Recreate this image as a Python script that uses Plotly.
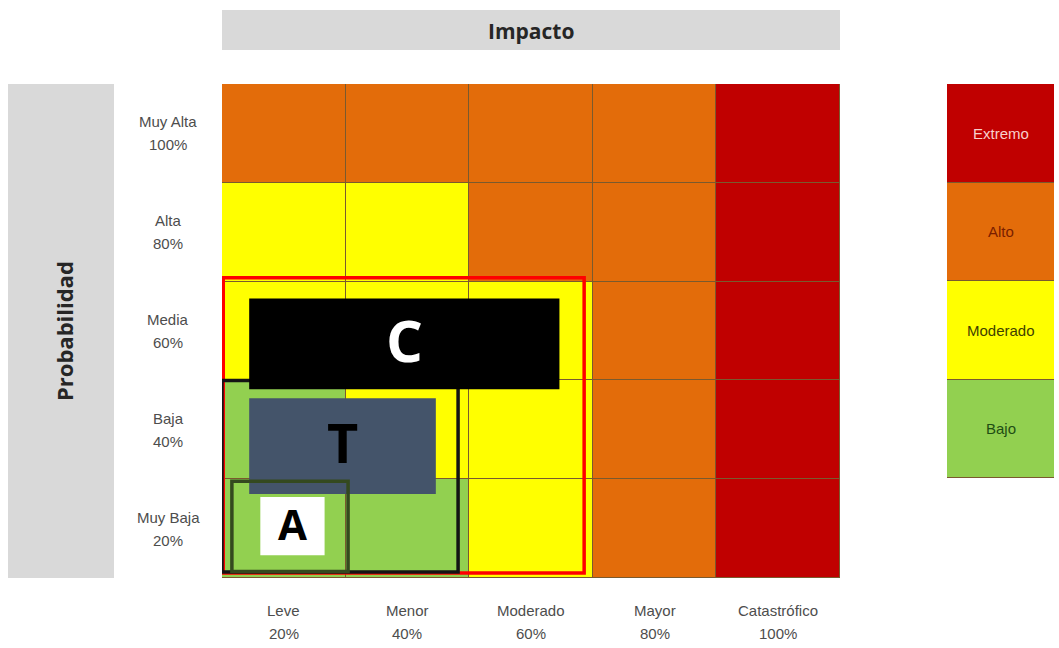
import plotly.graph_objects as go

# ---- data -------------------------------------------------------------
impact_names = ["Leve", "Menor", "Moderado", "Mayor", "Catastrófico"]
impact_pcts = ["20%", "40%", "60%", "80%", "100%"]
prob_names = ["Muy Baja", "Baja", "Media", "Alta", "Muy Alta"]   # bottom -> top
prob_pcts = ["20%", "40%", "60%", "80%", "100%"]

level_names = ["Bajo", "Moderado", "Alto", "Extremo"]
level_colors = ["#92D050", "#FFFF00", "#E36C0A", "#C00000"]
level_text_colors = ["#1F4E14", "#3F3F00", "#7A1E00", "#F8D0CC"]

# risk level per cell: rows = probability (Muy Baja..Muy Alta), cols = impact
risk_matrix = [
    [0, 0, 1, 2, 3],
    [0, 1, 1, 2, 3],
    [1, 1, 1, 2, 3],
    [1, 1, 2, 2, 3],
    [2, 2, 2, 2, 3],
]

# control zones, extents in (impact, probability) cell units
zone_names = ["C", "T", "A"]
zone_impact = [(0.01, 2.93), (0.0, 1.91), (0.08, 1.02)]
zone_prob = [(0.05, 3.04), (0.06, 2.00), (0.065, 0.98)]
zone_colors = ["#FF0000", "#141414", "#34491F"]

# label plates for each control
plate_impact = [(0.22, 2.73), (0.22, 1.73), (0.31, 0.83)]
plate_prob = [(1.91, 2.83), (0.85, 1.82), (0.23, 0.82)]
plate_fill = ["#000000", "#44546A", "#FFFFFF"]
plate_text = ["#FFFFFF", "#000000", "#000000"]
plate_size = [58, 54, 42]

# ---- figure -----------------------------------------------------------
W, H = 1059, 648
px_x = lambda p: p / W
px_y = lambda p: 1 - p / H

n = len(impact_names)
centers = [i + 0.5 for i in range(n)]

scale = []
for i, c in enumerate(level_colors):
    scale += [[i / len(level_colors), c], [(i + 1) / len(level_colors), c]]

fig = go.Figure()
fig.add_trace(go.Heatmap(
    z=risk_matrix, x=centers, y=centers,
    zmin=0, zmax=len(level_names) - 1, colorscale=scale,
    showscale=False, xgap=1, ygap=1, hoverinfo="skip",
))

# key column on its own axes
fig.add_trace(go.Heatmap(
    z=[[i] for i in range(len(level_names))], x=[0], y=list(range(len(level_names))),
    zmin=0, zmax=len(level_names) - 1, colorscale=scale,
    showscale=False, ygap=1, hoverinfo="skip", xaxis="x2", yaxis="y2",
))

axis_common = dict(showgrid=False, zeroline=False, showticklabels=False,
                   ticks="", showline=False, fixedrange=True)
fig.update_layout(
    width=W, height=H,
    margin=dict(l=0, r=0, t=0, b=0),
    paper_bgcolor="white",
    plot_bgcolor="#7A5A2E",
    showlegend=False,
    xaxis=dict(domain=[px_x(222), px_x(840)], range=[0, n], **axis_common),
    yaxis=dict(domain=[px_y(578), px_y(84)], range=[0, n], **axis_common),
    xaxis2=dict(domain=[px_x(947), px_x(1054)], range=[-0.5, 0.5], anchor="y2", **axis_common),
    yaxis2=dict(domain=[px_y(478), px_y(84)], range=[-0.5, len(level_names) - 0.5],
                anchor="x2", **axis_common),
)

shapes = []
# header bands
shapes.append(dict(type="rect", xref="x domain", yref="paper",
                   x0=0, x1=1, y0=px_y(50), y1=px_y(10),
                   fillcolor="#D9D9D9", line=dict(width=0), layer="below"))
shapes.append(dict(type="rect", xref="paper", yref="y domain",
                   x0=px_x(8), x1=px_x(114), y0=0, y1=1,
                   fillcolor="#D9D9D9", line=dict(width=0), layer="below"))

def outline(k):
    (x0, x1), (y0, y1) = zone_impact[k], zone_prob[k]
    return dict(type="rect", xref="x", yref="y", x0=x0, x1=x1, y0=y0, y1=y1,
                line=dict(color=zone_colors[k], width=3.5), fillcolor="rgba(0,0,0,0)")

def plate(k):
    (x0, x1), (y0, y1) = plate_impact[k], plate_prob[k]
    return dict(type="rect", xref="x", yref="y", x0=x0, x1=x1, y0=y0, y1=y1,
                line=dict(width=0), fillcolor=plate_fill[k])

# drawing order: outer red, black, C plate, T plate, green, A plate
shapes += [outline(0), outline(1), plate(0), plate(1), outline(2), plate(2)]
fig.update_layout(shapes=shapes)

ann = []
tick_font = dict(family="Liberation Sans, Arial, sans-serif", size=15, color="#4D4D4D")
mid = dict(xanchor="center", yanchor="middle", showarrow=False)
for i in range(n):
    ann.append(dict(x=centers[i], xref="x", y=0, yref="y domain", yshift=-32,
                    text=impact_names[i], font=tick_font, **mid))
    ann.append(dict(x=centers[i], xref="x", y=0, yref="y domain", yshift=-55,
                    text=impact_pcts[i], font=tick_font, **mid))
    ann.append(dict(x=0, xref="x domain", xshift=-54, y=centers[i], yref="y", yshift=11.5,
                    text=prob_names[i], font=tick_font, **mid))
    ann.append(dict(x=0, xref="x domain", xshift=-54, y=centers[i], yref="y", yshift=-11.5,
                    text=prob_pcts[i], font=tick_font, **mid))

ann.append(dict(x=0.5, xref="x domain", y=px_y(31), yref="paper", text="<b>Impacto</b>",
                font=dict(family="Open Sans", size=21, color="#262626"), **mid))
ann.append(dict(x=px_x(64), xref="paper", y=0.5, yref="y domain", text="<b>Probabilidad</b>",
                textangle=-90, font=dict(family="Open Sans", size=22, color="#262626"), **mid))

for i, name in enumerate(level_names):
    ann.append(dict(x=0, xref="x2", y=i, yref="y2", text=name,
                    font=dict(family="Liberation Sans, Arial, sans-serif", size=15,
                              color=level_text_colors[i]), **mid))

# plate letters: glyph box sits a little low in the line box, lift it slightly
for k, name in enumerate(zone_names):
    cx = sum(plate_impact[k]) / 2
    cy = sum(plate_prob[k]) / 2
    ann.append(dict(x=cx, xref="x", y=cy, yref="y", text="<b>%s</b>" % name,
                    yshift=plate_size[k] * 0.07,
                    font=dict(family="Open Sans", size=plate_size[k], color=plate_text[k]),
                    **mid))

fig.update_layout(annotations=ann)
fig.write_html("out.html")
